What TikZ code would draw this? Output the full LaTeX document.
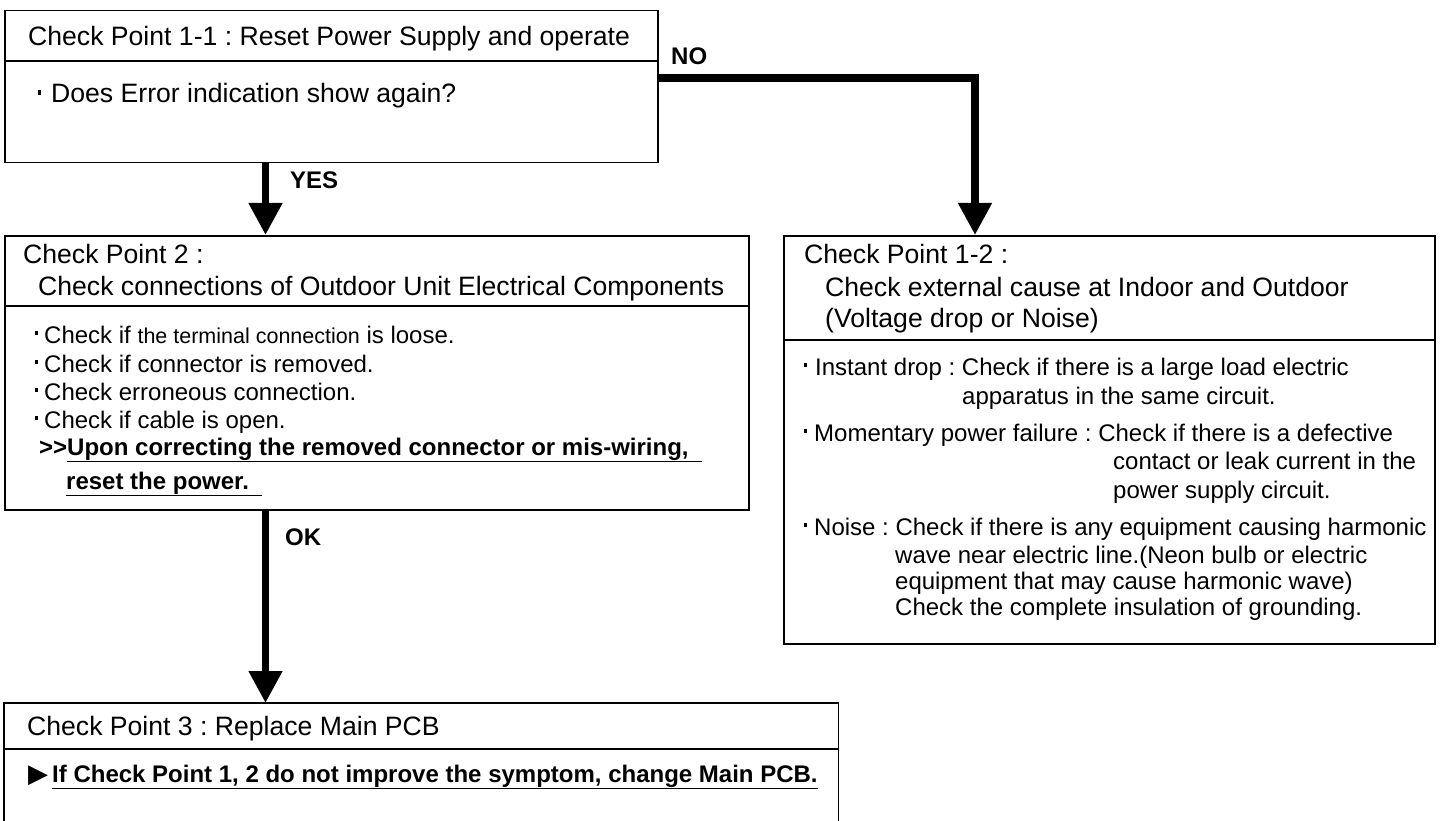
\documentclass[tikz,border=0pt]{standalone}
\usepackage{fontspec}
\setmainfont{Liberation Sans}
\newfontfamily\symfont{DejaVu Sans}
\usetikzlibrary{arrows.meta}
\frenchspacing
\newcommand{\sqdot}{\rule[8pt]{3pt}{4.5pt}}
\newcommand{\smalltxt}{\fontsize{21.5}{26}\selectfont}

\begin{document}
\begin{tikzpicture}[x=1pt,y=-1pt, font=\fontsize{26.6}{30}\selectfont,
    box/.style={draw, line width=1.5pt, anchor=north west, inner sep=0pt},
    txt/.style={anchor=base west, inner sep=0pt},
    body/.style={txt, font=\fontsize{24}{28}\selectfont},
    bold/.style={txt, font=\fontsize{24}{30}\selectfont\bfseries},
    flow/.style={line width=7.5pt, -{Triangle[width=32pt,length=32pt]}}]
  \useasboundingbox (0,0) rectangle (1445,821);

  \node[box, minimum width=653pt, minimum height=152pt] (cp11) at (4,10) {};
  \node[box, minimum width=744pt, minimum height=274pt] (cp2) at (4,235) {};
  \node[box, minimum width=651pt, minimum height=408pt] (cp12) at (783,235) {};
  \node[box, draw=none, minimum width=833pt, minimum height=130pt] (cp3) at (4,703) {};
  \draw[line width=1.5pt] (cp3.south west) -- (cp3.north west) -- (cp3.north east) -- (cp3.south east);

  \foreach \b/\y in {cp11/61, cp2/306, cp12/340, cp3/749}
    \draw[line width=1.5pt] (\b.west |- 0,\y) -- (\b.east |- 0,\y);

  \node[txt] (cp11t) at (28,46) {Check Point 1-1 : Reset Power Supply and operate};
  \node[txt] (cp11q) at (38,103) {\sqdot\hspace{10pt}Does Error indication show again?};

  \node[txt] (cp2t) at (23,263) {Check Point 2 :};
  \node[txt] (cp2s) at (38,295) {Check connections of Outdoor Unit Electrical Components};
  \foreach \y/\t [count=\i] in {343/{Check if {\smalltxt the terminal connection} is loose.},
      372/Check if connector is removed., 400/Check erroneous connection., 428/Check if cable is open.}
    \node[body] (b\i) at (35,\y) {\sqdot\hspace{6pt}\t};
  \node[bold] (cp2u) at (39,455) {>{}>\underline{Upon correcting the removed connector or mis-wiring,\ \ }};
  \node[bold] (cp2r) at (66,489) {\underline{reset the power.\ \ }};

  \node[txt] (cp12t) at (804,263) {Check Point 1-2 :};
  \node[txt] (cp12s) at (825,296) {Check external cause at Indoor and Outdoor};
  \node[txt] (cp12v) at (825,327) {(Voltage drop or Noise)};
  \node[body] (c1) at (804,375) {\sqdot\hspace{8pt}Instant drop : Check if there is a large load electric};
  \node[body] (c1a) at (962,404) {apparatus in the same circuit.};
  \node[body] (c2) at (804,441) {\sqdot\hspace{7pt}Momentary power failure : Check if there is a defective};
  \node[body] (c2a) at (1113,469) {contact or leak current in the};
  \node[body] (c2b) at (1113,498) {power supply circuit.};
  \node[body] (c3) at (804,535) {\sqdot\hspace{7pt}Noise : Check if there is any equipment causing harmonic};
  \node[body] (c3a) at (895,563) {wave near electric line.(Neon bulb or electric};
  \node[body] (c3b) at (895,589) {equipment that may cause harmonic wave)};
  \node[body] (c3c) at (895,615) {Check the complete insulation of grounding.};

  \node[txt] (cp3t) at (27,735) {Check Point 3 : Replace Main PCB};
  \node[txt] (tri) at (28,782) {\symfont\fontsize{26}{30}\selectfont ▶};
  \node[bold] (cp3u) at (52,782) {\underline{If Check Point 1, 2 do not improve the symptom, change Main PCB.}};

  \coordinate (trunk) at (265.5,0);
  \coordinate (nobend) at (975,78);
  \draw[flow] (cp11.south -| trunk) -- (cp2.north -| trunk);
  \draw[flow] (cp2.south -| trunk) -- (cp3.north -| trunk);
  \draw[flow] (cp11.east |- nobend) -- (nobend) -- (nobend |- cp12.north);

  \node[bold] (yes) at (290,189) {YES};
  \node[bold] (no) at (671,65) {NO};
  \node[bold] (ok) at (285,545) {OK};
\end{tikzpicture}
\end{document}
